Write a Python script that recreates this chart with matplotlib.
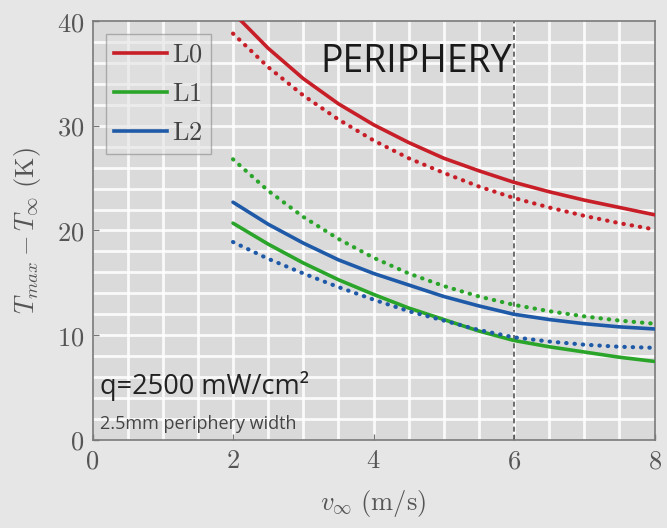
import matplotlib
matplotlib.use("Agg")
import matplotlib.pyplot as plt
from matplotlib.lines import Line2D

plt.rcParams["mathtext.fontset"] = "cm"

# Free-stream velocity (m/s)
v_inf = [2.0, 2.5, 3.0, 3.5, 4.0, 4.5, 5.0, 5.5, 6.0, 6.5, 7.0, 7.5, 8.0]

# Peak temperature rise T_max - T_inf (K); solid and dotted variants per layer
L0_solid  = [40.8, 37.4, 34.5, 32.1, 30.1, 28.4, 26.9, 25.7, 24.6, 23.7, 22.9, 22.2, 21.5]
L0_dotted = [38.8, 35.6, 32.9, 30.6, 28.6, 26.9, 25.5, 24.2, 23.1, 22.2, 21.4, 20.7, 20.1]
L1_solid  = [20.7, 18.7, 16.9, 15.3, 13.9, 12.6, 11.5, 10.4, 9.5, 8.9, 8.4, 7.9, 7.5]
L1_dotted = [26.8, 23.8, 21.3, 19.2, 17.4, 15.9, 14.7, 13.7, 12.9, 12.3, 11.8, 11.4, 11.1]
L2_solid  = [22.7, 20.6, 18.8, 17.2, 15.9, 14.8, 13.7, 12.8, 12.0, 11.5, 11.1, 10.8, 10.6]
L2_dotted = [18.9, 17.3, 15.9, 14.6, 13.4, 12.3, 11.4, 10.5, 9.8, 9.4, 9.1, 8.9, 8.8]

labels = ["L0", "L1", "L2"]
colors = ["#c81e28", "#2aa52a", "#1f5aa8"]

x_ticks = [0, 2, 4, 6, 8]
y_ticks = [0, 10, 20, 30, 40]
marker_v = 6.0

fig = plt.figure(figsize=(6.67, 5.28), dpi=100, facecolor="#e6e6e6")
ax = fig.add_axes([0.1387, 0.1667, 0.8426, 0.7935])
ax.set_facecolor("#dadada")

# white background lattice
for gx in [i * 0.5 for i in range(1, 16)]:
    ax.axvline(gx, color="white", lw=2.0, alpha=0.85, zorder=0.5)
for gy in range(2, 40, 2):
    ax.axhline(gy, color="white", lw=2.0, alpha=0.85, zorder=0.5)

solid = [L0_solid, L1_solid, L2_solid]
dotted = [L0_dotted, L1_dotted, L2_dotted]
for c, s, d in zip(colors, solid, dotted):
    ax.plot(v_inf, s, color=c, lw=2.6, solid_capstyle="round",
            solid_joinstyle="round", zorder=3)
    ax.plot(v_inf, d, color=c, lw=3.0, linestyle=(0, (0.1, 1.9)),
            dash_capstyle="round", zorder=3)

ax.axvline(marker_v, color="#555555", lw=1.2, linestyle=(0, (3, 2)), zorder=2.5)

ax.set_xlim(0, 8)
ax.set_ylim(0, 40)
ax.set_xticks(x_ticks)
ax.set_yticks(y_ticks)
ax.set_xticklabels([f"${t}$" for t in x_ticks])
ax.set_yticklabels([f"${t}$" for t in y_ticks])
ax.tick_params(direction="in", length=4, width=1, colors="#777777",
               labelcolor="#555555", labelsize=19, pad=6)
for sp in ax.spines.values():
    sp.set_color("#7a7a7a")
    sp.set_linewidth(1.2)

ax.set_xlabel(r"$v_\infty\ \mathrm{(m/s)}$", fontsize=19, color="#555555", labelpad=10)
ax.set_ylabel(r"$T_{max} - T_\infty\ \mathrm{(K)}$", fontsize=19, color="#555555", labelpad=10)

handles = [Line2D([0], [0], color=c, lw=2.6) for c in colors]
leg = ax.legend(handles, [f"$\\mathrm{{{l}}}$" for l in labels], loc="upper left",
                bbox_to_anchor=(0.024, 0.969), borderaxespad=0, fontsize=19,
                handlelength=2.0, handletextpad=0.2, labelspacing=0.5, borderpad=0.3,
                fancybox=False, framealpha=0.6, facecolor="#e2e2e2",
                edgecolor="#888888", labelcolor="#444444")
leg.get_frame().set_linewidth(1.0)

ax.text(0.576, 0.903, "PERIPHERY", transform=ax.transAxes, ha="center", va="center",
        fontsize=27, family="Open Sans", color="#1a1a1a", zorder=4)
ax.text(0.013, 0.129, "q=2500 mW/cm²", transform=ax.transAxes, ha="left", va="center",
        fontsize=19.5, family="Open Sans", color="#222222", zorder=4)
ax.text(0.013, 0.038, "2.5mm periphery width", transform=ax.transAxes, ha="left",
        va="center", fontsize=13, family="Open Sans", color="#444444", zorder=4)

fig.savefig("out.png", dpi=100, facecolor=fig.get_facecolor())
